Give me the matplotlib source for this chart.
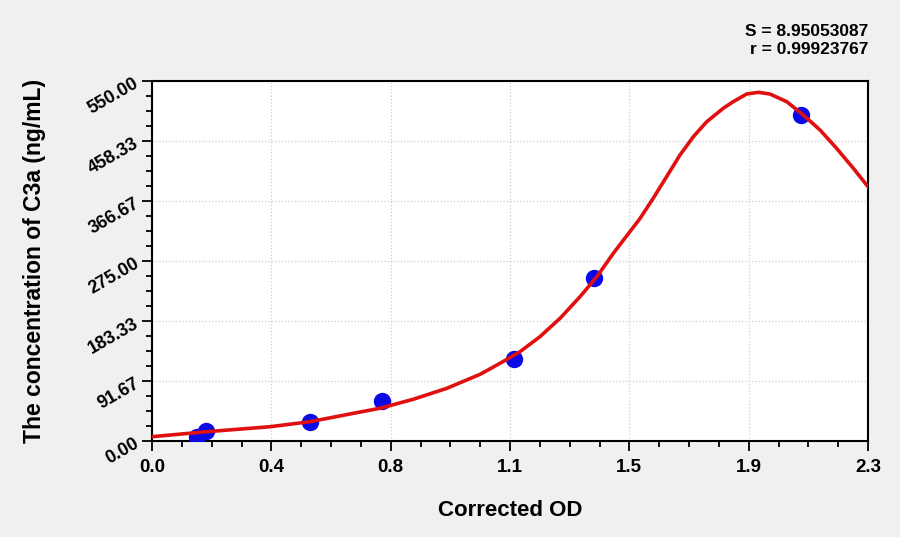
import numpy as np
import matplotlib.pyplot as plt
from matplotlib.ticker import AutoMinorLocator

# standards (corrected OD vs concentration)
od = [0.146, 0.173, 0.508, 0.739, 1.163, 1.420, 2.086]
conc = [6.6, 15.7, 29.5, 61.6, 125.3, 248.6, 498.1]

# fitted curve
curve_x = [0.0, 0.176, 0.379, 0.508, 0.647, 0.732, 0.839, 0.947, 1.054, 1.118,
           1.182, 1.246, 1.311, 1.375, 1.429, 1.482, 1.568, 1.610, 1.653, 1.696,
           1.739, 1.782, 1.835, 1.867, 1.910, 1.948, 1.985, 2.039, 2.092, 2.146,
           2.199, 2.253, 2.300]
curve_y = [6.6, 14.2, 21.8, 29.5, 42.3, 50.0, 63.7, 80.5, 101.9, 118.7,
           136.4, 159.3, 187.5, 220.5, 251.0, 286.8, 340.2, 370.8, 403.8, 436.9,
           464.9, 487.8, 508.3, 518.4, 530.1, 532.7, 530.1, 518.4, 498.1, 475.1,
           447.2, 416.6, 388.5]

xticks = [0.0, 2.3 / 6, 2 * 2.3 / 6, 3 * 2.3 / 6, 4 * 2.3 / 6, 5 * 2.3 / 6, 2.3]
xlabels = ['0.0', '0.4', '0.8', '1.1', '1.5', '1.9', '2.3']
yticks = [550 / 6 * i for i in range(7)]
ylabels = ['%.2f' % v for v in yticks]

S_txt = 'S = 8.95053087'
r_txt = 'r = 0.99923767'

plt.rcParams['font.family'] = ['Liberation Sans', 'DejaVu Sans']

fig = plt.figure(figsize=(9, 5.37), dpi=100, facecolor='#f0f0f0')
ax = fig.add_axes([152 / 900, 1 - 441 / 537, 716 / 900, 360 / 537])
ax.set_facecolor('white')

ax.plot(od, conc, 'o', color='#0a0ae6', markersize=11.5, zorder=3)
ax.plot(curve_x, curve_y, '-', color='#e01010', lw=2.6, zorder=4)

ax.set_xlim(0, 2.3)
ax.set_ylim(0, 550)
ax.set_xticks(xticks)
ax.set_xticklabels(xlabels, fontsize=13.5, fontweight='bold')
ax.set_yticks(yticks)
ax.set_yticklabels(ylabels, fontsize=13, fontweight='bold', rotation=30, ha='right', rotation_mode='anchor')
ax.xaxis.set_minor_locator(AutoMinorLocator(4))
ax.yaxis.set_minor_locator(AutoMinorLocator(4))
ax.tick_params(which='major', direction='out', length=7, width=1.3, pad=4)
ax.tick_params(which='minor', direction='out', length=4, width=1.3)
ax.tick_params(axis='x', which='major', pad=6)
ax.tick_params(top=False, right=False)
for s in ax.spines.values():
    s.set_linewidth(1.5)
ax.grid(True, which='major', color='#cccccc', ls=':', lw=0.9)

ax.set_xlabel('Corrected OD', fontsize=16, fontweight='bold')
ax.set_ylabel('The concentration of C3a (ng/mL)', fontsize=16.5, fontweight='bold')
ax.xaxis.set_label_coords(0.5, -0.165)
ax.yaxis.set_label_coords(-0.148, 0.5)

fig.text(868 / 900, 1 - 31 / 537, S_txt, ha='right', va='center', fontsize=12.5, fontweight='bold')
fig.text(868 / 900, 1 - 50 / 537, r_txt, ha='right', va='center', fontsize=12.5, fontweight='bold')

fig.savefig('out.png', dpi=100, facecolor=fig.get_facecolor())
